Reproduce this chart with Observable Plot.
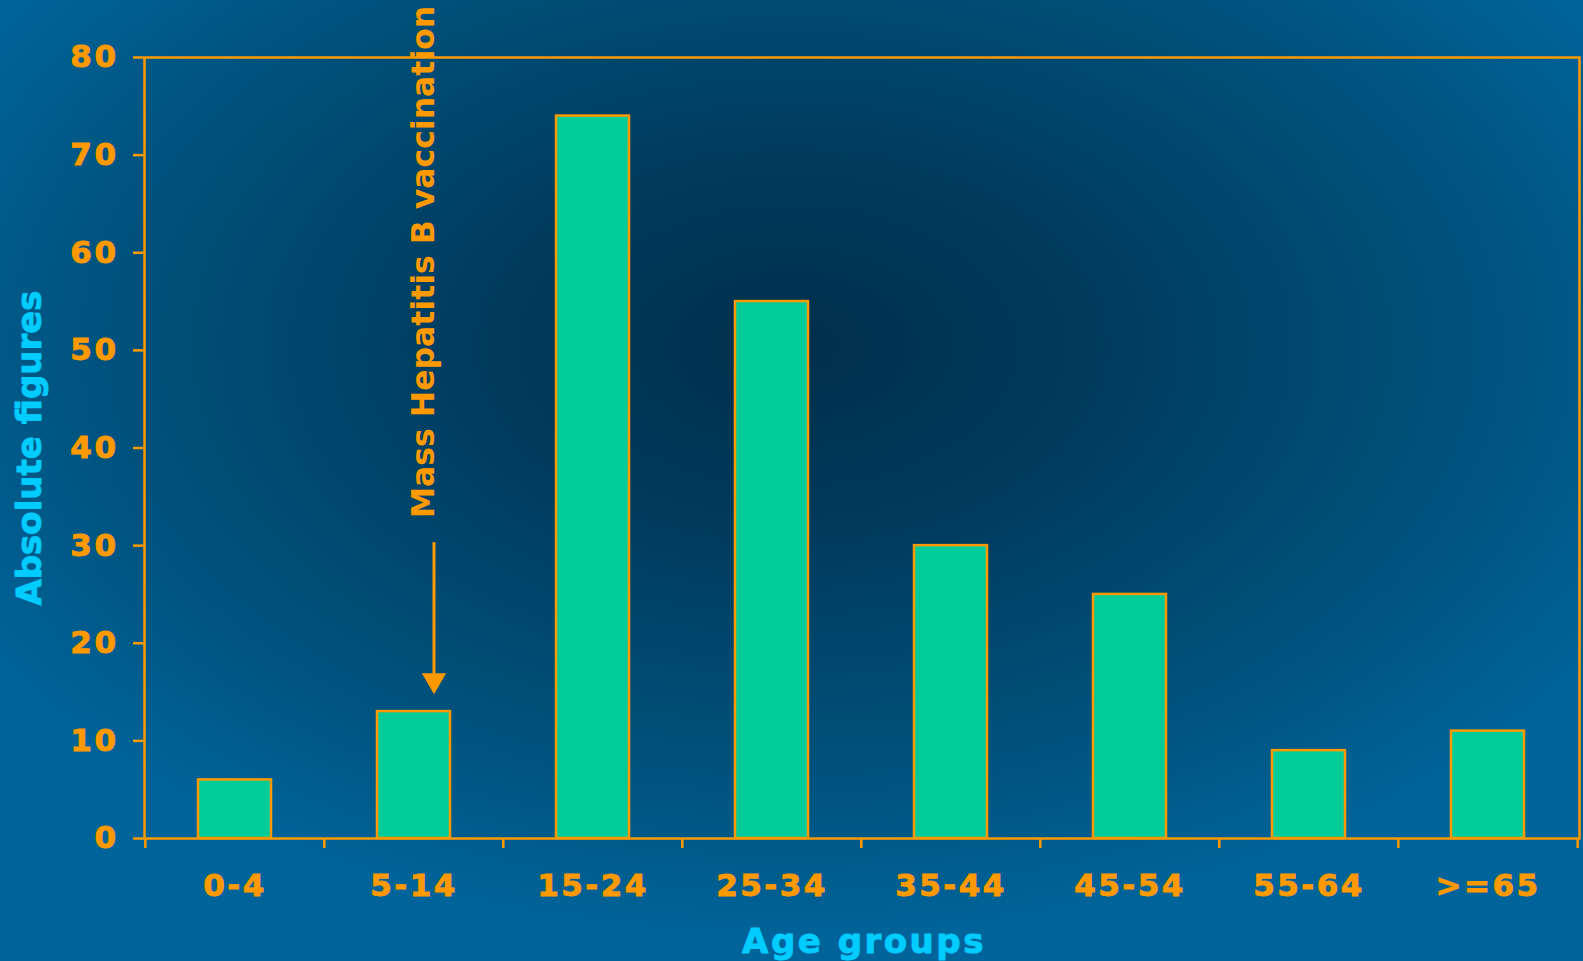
<!DOCTYPE html>
<html>
<head>
<meta charset="utf-8">
<script src="https://cdn.jsdelivr.net/npm/d3@7"></script>
<script src="https://cdn.jsdelivr.net/npm/@observablehq/plot@0.6"></script>
<style>
  html, body { margin: 0; padding: 0; }
  body {
    width: 1583px; height: 961px; overflow: hidden;
    background: radial-gradient(ellipse 60% 62% at 50% 36%, #002f4c 0%, #003a5c 30%, #004a72 58%, #005886 82%, #00649a 100%);
  }
  #chart svg { display: block; background: transparent; }
  #chart g[aria-label="y-axis tick label"] text,
  #chart g[aria-label="x-axis tick label"] text {
    letter-spacing: 2.5px; stroke: #FF9900; stroke-width: 0.9px; paint-order: stroke;
  }
  #chart g[aria-label="text"] text { stroke-width: 0.9px; paint-order: stroke; }
</style>
</head>
<body>
<div id="chart"></div>
<script>
// Data
const ageGroups = ["0-4", "5-14", "15-24", "25-34", "35-44", "45-54", "55-64", ">=65"];
const counts = [6, 13, 74, 55, 30, 25, 9, 11];
const yTicks = [0, 10, 20, 30, 40, 50, 60, 70, 80];
const yTitle = "Absolute figures";
const xTitle = "Age groups";
const annotationText = "Mass Hepatitis B vaccination";
const annotationGroup = "5-14";
const annotationTextStart = 32.8;
const arrowFrom = 30.3;
const arrowHead = 16.2;

const data = ageGroups.map((g, i) => ({group: g, count: counts[i]}));

const W = 1583, H = 961;
const mL = 144, mR = 4, mT = 57, mB = 123;
const step = (W - mL - mR) / ageGroups.length;

const orange = "#FF9900";
const green = "#00CC99";
const cyan = "#00CCFF";
const font = "DejaVu Sans, Verdana, sans-serif";

const chart = Plot.plot({
  width: W,
  height: H,
  marginLeft: mL,
  marginRight: mR,
  marginTop: mT,
  marginBottom: mB,
  style: {background: "transparent", fontFamily: font, fontWeight: "bold", overflow: "visible"},
  x: {domain: ageGroups, paddingInner: 0.59, paddingOuter: 0.295, label: null},
  y: {domain: [0, 80], label: null},
  marks: [
    Plot.barY(data, {x: "group", y: "count", fill: green, stroke: orange, strokeWidth: 2.5}),
    Plot.frame({stroke: orange, strokeWidth: 2.5}),
    Plot.axisY({ticks: yTicks, tickSize: 11, tickPadding: 15, color: orange, strokeWidth: 2.5,
      fontSize: 31, fontWeight: "bold", label: null}),
    // boundary ticks between groups
    Plot.axisX({ticks: ageGroups, tickSize: 10, stroke: orange, strokeWidth: 2.5, fill: "none",
      dx: -step / 2, label: null}),
    Plot.axisX({ticks: ageGroups.slice(-1), tickSize: 10, stroke: orange, strokeWidth: 2.5, fill: "none",
      dx: step / 2, label: null}),
    // group labels
    Plot.axisX({tickSize: 0, tickPadding: 35, fill: orange, fontSize: 31, fontWeight: "bold", label: null}),
    // axis titles
    Plot.text([yTitle], {frameAnchor: "left", dx: -114, rotate: -90, text: d => d,
      fill: cyan, stroke: cyan, fontSize: 34, fontWeight: "bold", textAnchor: "middle", lineAnchor: "middle"}),
    Plot.text([xTitle], {frameAnchor: "bottom", dy: 104, dx: 2, text: d => d,
      fill: cyan, stroke: cyan, fontSize: 34, fontWeight: "bold", textAnchor: "middle", lineAnchor: "middle"}),
    // annotation
    Plot.text([annotationText], {x: () => annotationGroup, y: () => annotationTextStart, text: d => d,
      rotate: -90, textAnchor: "start", lineAnchor: "middle", dx: 10,
      fill: orange, fontSize: 31.5, fontWeight: "bold"}),
    Plot.ruleX([annotationGroup], {x: d => d, y1: arrowFrom, y2: arrowHead, stroke: orange, strokeWidth: 3, dx: 20}),
    Plot.dot([annotationGroup], {x: d => d, y: arrowHead, symbol: "triangle", r: 9, rotate: 180,
      fill: orange, stroke: "none", dx: 20})
  ]
});

// widen the x-axis title letter spacing (the reference is horizontally stretched)
d3.select(chart).selectAll("text").filter(function() { return this.textContent === xTitle; })
  .style("letter-spacing", "2.5px");

document.getElementById("chart").appendChild(chart);
</script>
</body>
</html>
